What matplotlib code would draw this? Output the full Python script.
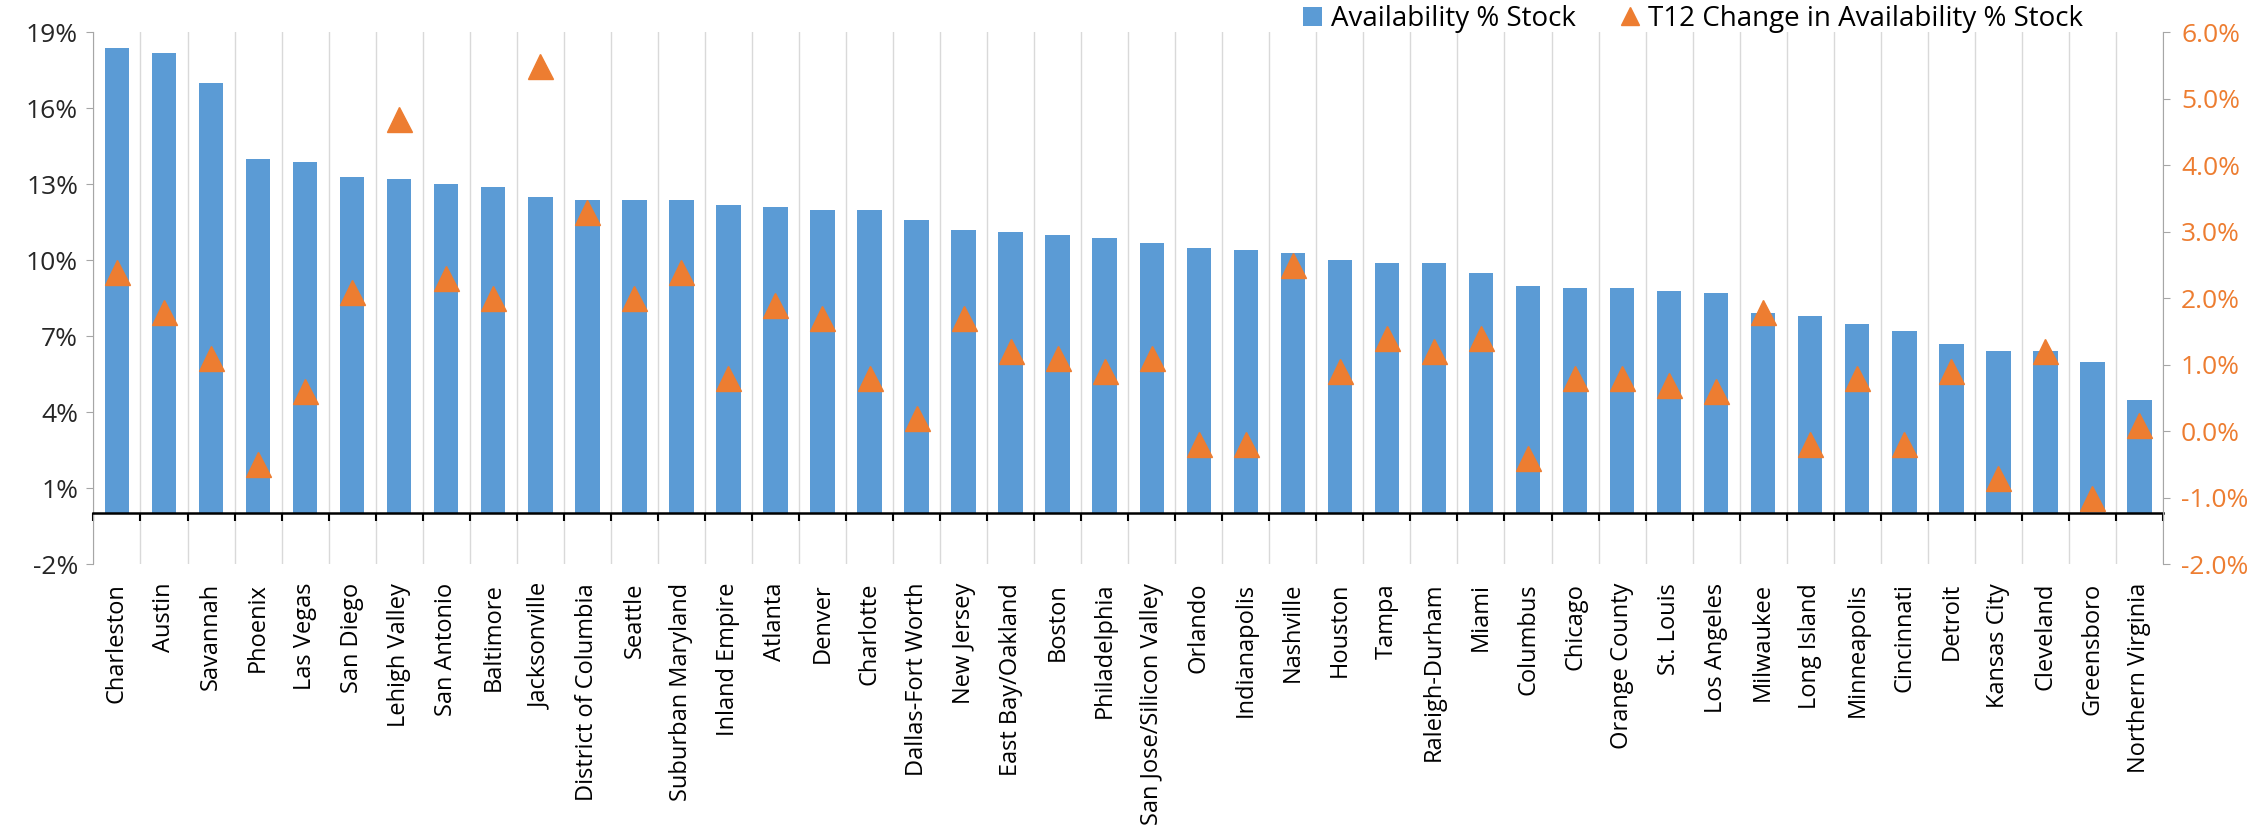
import matplotlib
matplotlib.use('Agg')
import matplotlib.pyplot as plt
import numpy as np
from matplotlib.lines import Line2D
from matplotlib.patches import Patch

plt.rcParams['font.family'] = ['Open Sans', 'DejaVu Sans']

markets = ['Charleston', 'Austin', 'Savannah', 'Phoenix', 'Las Vegas', 'San Diego',
           'Lehigh Valley', 'San Antonio', 'Baltimore', 'Jacksonville',
           'District of Columbia', 'Seattle', 'Suburban Maryland', 'Inland Empire',
           'Atlanta', 'Denver', 'Charlotte', 'Dallas-Fort Worth', 'New Jersey',
           'East Bay/Oakland', 'Boston', 'Philadelphia', 'San Jose/Silicon Valley',
           'Orlando', 'Indianapolis', 'Nashville', 'Houston', 'Tampa', 'Raleigh-Durham',
           'Miami', 'Columbus', 'Chicago', 'Orange County', 'St. Louis', 'Los Angeles',
           'Milwaukee', 'Long Island', 'Minneapolis', 'Cincinnati', 'Detroit',
           'Kansas City', 'Cleveland', 'Greensboro', 'Northern Virginia']

availability = [18.4, 18.2, 17.0, 14.0, 13.9, 13.3, 13.2, 13.0, 12.9, 12.5,
                12.4, 12.4, 12.4, 12.2, 12.1, 12.0, 12.0, 11.6, 11.2, 11.1,
                11.0, 10.9, 10.7, 10.5, 10.4, 10.3, 10.0, 9.9, 9.9, 9.5,
                9.0, 8.9, 8.9, 8.8, 8.7, 7.9, 7.8, 7.5, 7.2, 6.7,
                6.4, 6.4, 6.0, 4.5]

t12_change = [2.4, 1.8, 1.1, -0.5, 0.6, 2.1, 4.7, 2.3, 2.0, 5.5,
              3.3, 2.0, 2.4, 0.8, 1.9, 1.7, 0.8, 0.2, 1.7, 1.2,
              1.1, 0.9, 1.1, -0.2, -0.2, 2.5, 0.9, 1.4, 1.2, 1.4,
              -0.4, 0.8, 0.8, 0.7, 0.6, 1.8, -0.2, 0.8, -0.2, 0.9,
              -0.7, 1.2, -1.0, 0.1]

left_ticks = [-2, 1, 4, 7, 10, 13, 16, 19]
right_ticks = [-2, -1, 0, 1, 2, 3, 4, 5, 6]

blue = '#5B9BD5'
orange = '#ED7D31'
axis_gray = '#A6A6A6'

fig = plt.figure(figsize=(22.63, 8.32), dpi=100)
ax = fig.add_axes([0.0413, 0.322, 0.9145, 0.639])

x = np.arange(len(markets))
ax.bar(x, availability, width=0.52, color=blue, zorder=2)
ax.set_xlim(-0.5, len(markets) - 0.5)
ax.set_ylim(-2, 19)
ax.set_yticks(left_ticks)
ax.set_yticklabels(['{}%'.format(v) for v in left_ticks], fontsize=19, color='#262626')

# x axis sits on zero, labels pushed below the plot
ax.spines['bottom'].set_position(('data', 0))
ax.spines['bottom'].set_color('black')
ax.spines['bottom'].set_linewidth(1.8)
ax.spines['bottom'].set_zorder(3)
ax.spines['top'].set_visible(False)
ax.spines['right'].set_visible(False)
ax.spines['left'].set_color(axis_gray)
ax.set_xticks(x)
ax.set_xticklabels(markets, rotation=90, fontsize=17)
ax.set_xticks(np.arange(len(markets) + 1) - 0.5, minor=True)
ax.tick_params(axis='x', which='major', length=0, pad=50)
ax.tick_params(axis='x', which='minor', length=6, width=1.5, color='black', direction='out')
ax.tick_params(axis='y', length=5, color=axis_gray, pad=6)
ax.grid(axis='x', which='minor', color='#D9D9D9', linewidth=1, zorder=0)
ax.set_axisbelow(True)

ax2 = ax.twinx()
ax2.plot(x, t12_change, linestyle='none', marker='^', markersize=18, color=orange, zorder=4)
ax2.set_ylim(-2, 6)
ax2.set_yticks(right_ticks)
ax2.set_yticklabels(['{:.1f}%'.format(v) for v in right_ticks], fontsize=19, color=orange)
ax2.spines['top'].set_visible(False)
ax2.spines['left'].set_visible(False)
ax2.spines['bottom'].set_visible(False)
ax2.spines['right'].set_color(axis_gray)
ax2.tick_params(axis='y', length=5, color=axis_gray, pad=8)

handles = [Patch(facecolor=blue, edgecolor='none'),
           Line2D([], [], linestyle='none', marker='^', markersize=13, color=orange)]
fig.legend(handles, ['Availability % Stock', 'T12 Change in Availability % Stock'],
           loc='center', bbox_to_anchor=(0.748, 0.977), ncol=2, frameon=False,
           fontsize=20, handlelength=0.7, handletextpad=0.3, columnspacing=1.6)

fig.savefig('out.png', dpi=100)
